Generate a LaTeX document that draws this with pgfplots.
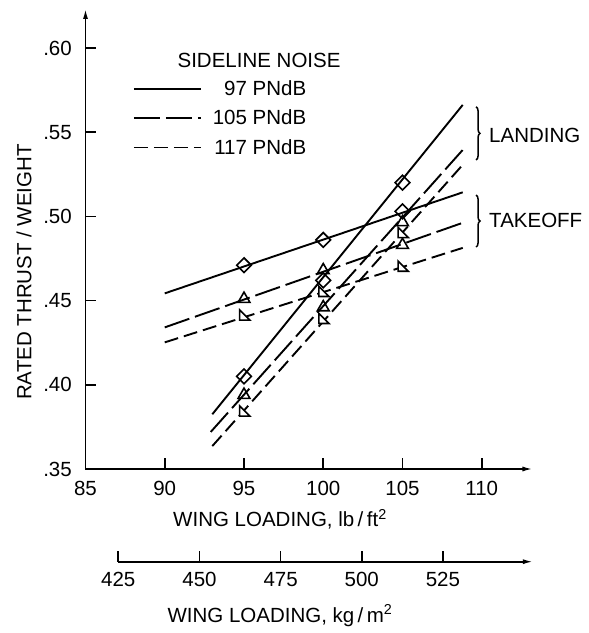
\documentclass[border=0pt]{standalone}
\usepackage{fontspec}
\setmainfont{Liberation Sans}
\usepackage{pgfplots}
\pgfplotsset{compat=1.18}
\usetikzlibrary{decorations.pathreplacing,arrows.meta}

% right-angled triangle used for the 117 PNdB symbols
\pgfdeclareplotmark{rtri}{%
  \pgfpathmoveto{\pgfqpoint{-.75\pgfplotmarksize}{\pgfplotmarksize}}%
  \pgfpathlineto{\pgfqpoint{-.75\pgfplotmarksize}{-.75\pgfplotmarksize}}%
  \pgfpathlineto{\pgfqpoint{\pgfplotmarksize}{-.75\pgfplotmarksize}}%
  \pgfpathclose
  \pgfusepathqfillstroke
}

\tikzset{
  n97/.style={black, line width=1.9bp},
  n105/.style={black, line width=1.9bp, dash pattern=on 26bp off 6bp},
  n117/.style={black, line width=1.9bp, dash pattern=on 14bp off 6bp},
}

\begin{document}
\begin{tikzpicture}[font=\fontsize{20.5bp}{24bp}\selectfont]
\useasboundingbox (-85.5bp,-164bp) rectangle (503.5bp,469bp);

% lb/ft^2 scale with the data
\begin{axis}[
  x=15.85bp, y=1684bp,
  xmin=85, xmax=113.2, ymin=0.35, ymax=0.6232,
  clip=false,
  axis lines=left,
  axis line style={line width=1.6bp},
  x axis line style={-{Latex[length=10bp,width=5bp]}},
  y axis line style={-{Latex[length=10bp,width=5bp]}},
  tick align=inside, major tick length=10.5bp,
  tick style={line width=1.6bp, black},
  xtick={85,90,95,100,105,110},
  xticklabels={85,90,95,100,105,110},
  ytick={0.35,0.40,0.45,0.50,0.55,0.60},
  yticklabels={.35,.40,.45,.50,.55,.60},
  xticklabel style={anchor=north, inner sep=0pt, yshift=-11.7bp},
  yticklabel style={anchor=east, inner sep=0pt, xshift=-13.5bp},
  legend image code/.code={\draw (0bp,0bp) -- (67bp,0bp);},
  legend cell align=right,
  legend style={draw=none, fill=none, at={(0.1061,0.8441)}, anchor=north west,
    inner sep=0pt, outer sep=0pt, row sep=13bp, column sep=11bp,
    nodes={inner sep=0pt}},
]
% takeoff lines
\addplot[n97, forget plot]  coordinates {(90,0.4543) (108.8,0.5143)};
\addplot[n105, forget plot] coordinates {(90,0.4341) (108.8,0.4962)};
\addplot[n117, forget plot] coordinates {(90,0.4252) (108.8,0.4813)};
% landing lines
\addplot[n97, forget plot]  coordinates {(93,0.3825) (108.8,0.5662)};
\addplot[n105, forget plot] coordinates {(92.9,0.3720) (108.85,0.5400)};
\addplot[n117, forget plot] coordinates {(93,0.3636) (108.9,0.5317)};

% symbols, 97 PNdB
\addplot[only marks, forget plot, mark=square, mark size=5.2bp,
  mark options={rotate=45, fill=white, line width=1.6bp, solid}]
  coordinates {(95,0.471) (100,0.486) (105,0.503)
               (95,0.405) (100,0.462) (105,0.520)};
% symbols, 105 PNdB
\addplot[only marks, forget plot, mark=triangle, mark size=6.8bp,
  mark options={fill=white, line width=1.6bp, solid}]
  coordinates {(95,0.451) (100,0.468) (105,0.483)
               (95,0.394) (100,0.446) (105,0.4965)};
% symbols, 117 PNdB
\addplot[only marks, forget plot, mark=rtri, mark size=5.8bp,
  mark options={fill=white, line width=1.6bp, solid}]
  coordinates {(95,0.441) (100,0.455) (105,0.470)
               (95,0.384) (100,0.439) (105,0.490)};

\addlegendimage{n97}  \addlegendentry{97 PNdB}
\addlegendimage{n105} \addlegendentry{105 PNdB}
\addlegendimage{n117} \addlegendentry{117 PNdB}

\node at (axis cs:95.95,0.5929) {SIDELINE NOISE};

\draw[line width=1.5bp, decorate, decoration={brace, amplitude=4bp}]
  (axis cs:109.64,0.5651) -- (axis cs:109.64,0.5335);
\draw[line width=1.5bp, decorate, decoration={brace, amplitude=4bp}]
  (axis cs:109.64,0.5127) -- (axis cs:109.64,0.4818);
\node[anchor=west, inner sep=0pt] at (axis cs:110.46,0.5483) {LANDING};
\node[anchor=west, inner sep=0pt] at (axis cs:110.46,0.4976) {TAKEOFF};

\node[anchor=base] at (axis cs:97.27,0.3156) {WING LOADING, lb\,/\,ft\textsuperscript{2}};
\node[rotate=90, anchor=center] at (axis cs:81.12,0.467) {RATED THRUST / WEIGHT};
\end{axis}

% kg/m^2 scale
\begin{axis}[
  at={(32.8bp,-92.7bp)}, anchor=south west,
  x=3.2464bp, y=1bp,
  xmin=425, xmax=552.7, ymin=0, ymax=1,
  clip=false,
  axis x line=bottom, axis y line=none,
  axis line style={line width=1.6bp},
  x axis line style={-{Latex[length=10bp,width=5bp]}},
  tick align=inside, major tick length=10.5bp,
  tick style={line width=1.6bp, black},
  xtick={425,450,475,500,525},
  xticklabels={425,450,475,500,525},
  xticklabel style={anchor=north, inner sep=0pt, yshift=-10bp},
]
\addplot[draw=none] coordinates {(450,0)};
\node[anchor=base] at (axis cs:474.8,-60.3) {WING LOADING, kg\,/\,m\textsuperscript{2}};
\end{axis}
\end{tikzpicture}
\end{document}
